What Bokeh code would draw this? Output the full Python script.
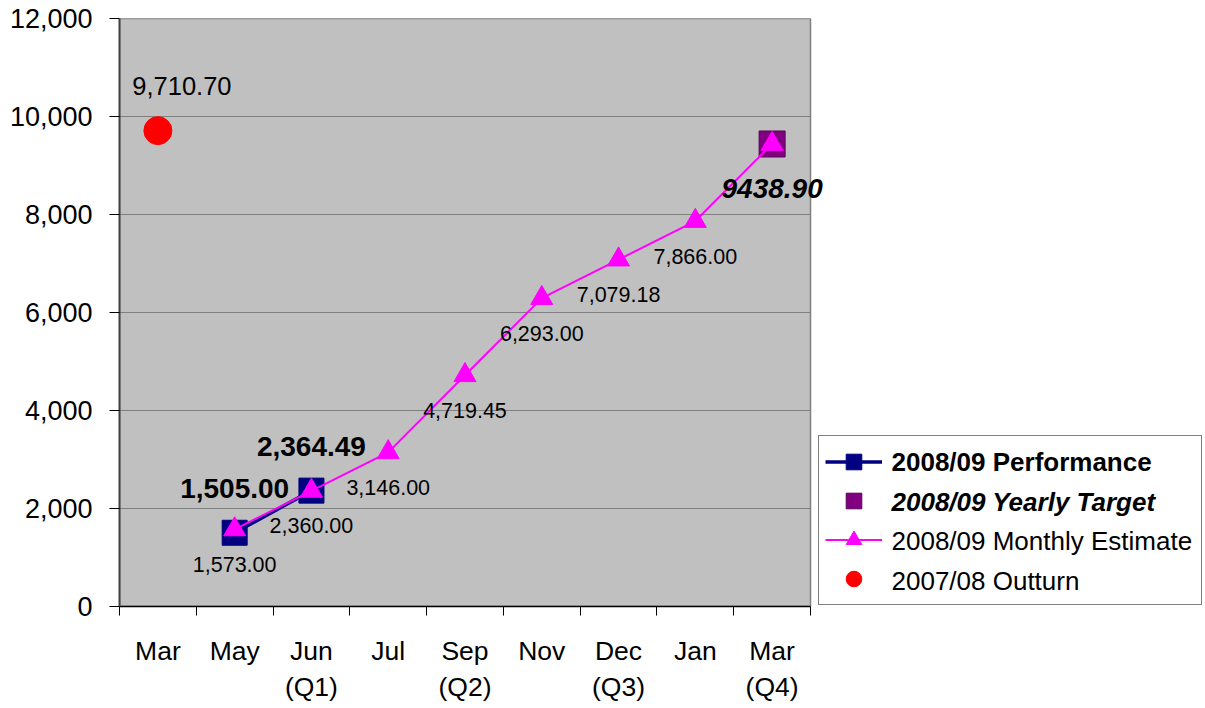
from bokeh.plotting import figure
from bokeh.models import (ColumnDataSource, Range1d, FixedTicker, NumeralTickFormatter,
                          LabelSet, Legend, LegendItem)
from bokeh.core.properties import value
from bokeh.embed import file_html
from bokeh.resources import INLINE

# ---------------- data ----------------
categories = ["Mar", "May", "Jun\n(Q1)", "Jul", "Sep\n(Q2)", "Nov", "Dec\n(Q3)", "Jan", "Mar\n(Q4)"]

outturn_cats = [0]
outturn_values = [9710.70]

performance_cats = [1, 2]
performance_values = [1505.00, 2364.49]

estimate_cats = [1, 2, 3, 4, 5, 6, 7, 8]
estimate_values = [1573.00, 2360.00, 3146.00, 4719.45, 6293.00, 7079.18, 7866.00, 9438.90]

target_cats = [8]
target_values = [9438.90]

y_ticks = [0, 2000, 4000, 6000, 8000, 10000, 12000]

legend_labels = ["2008/09 Performance", "2008/09 Yearly Target",
                 "2008/09 Monthly Estimate", "2007/08 Outturn"]
legend_styles = ["bold", "bold italic", "normal", "normal"]

FONT = "Liberation Sans"
NAVY = "#000080"
MAGENTA = "#FF00FF"
PURPLE = "#800080"
RED = "#FF0000"

# ---------------- layout ----------------
W, H = 1205, 708
LEFT, TOP, BOTTOM = 119, 18, 102
PLOT_W = 691                      # width of the grey plotting area in px
n = len(categories)
frame_w = W - LEFT
x_end = n * frame_w / PLOT_W       # frame extends to the right to hold the legend
y_max = y_ticks[-1]
centers = [i + 0.5 for i in range(n)]

p = figure(width=W, height=H, x_range=Range1d(0, x_end), y_range=Range1d(0, y_max),
           output_backend="svg", toolbar_location=None,
           min_border_left=LEFT, min_border_right=0, min_border_top=TOP, min_border_bottom=BOTTOM)
p.background_fill_color = "white"
p.border_fill_color = "white"
p.outline_line_color = None
p.xgrid.grid_line_color = None
p.ygrid.grid_line_color = None

# grey plotting area + gridlines
p.quad(left=[0], right=[n], bottom=[0], top=[y_max], fill_color="#C0C0C0",
       line_color="#808080", line_width=1.5)
p.segment(x0=[0] * (len(y_ticks) - 1), x1=[n] * (len(y_ticks) - 1),
          y0=y_ticks[1:], y1=y_ticks[1:], line_color="#808080", line_width=1)

# axes
p.yaxis.ticker = FixedTicker(ticks=y_ticks)
p.yaxis.formatter = NumeralTickFormatter(format="0,0")
p.yaxis.major_label_text_font = FONT
p.yaxis.major_label_text_font_size = "27px"
p.yaxis.major_label_text_color = "black"
p.yaxis.major_tick_out = 10
p.yaxis.major_tick_in = 0
p.yaxis.minor_tick_out = 0
p.yaxis.minor_tick_in = 0
p.yaxis.major_tick_line_color = "black"
p.yaxis.axis_line_color = "#404040"
p.yaxis.axis_line_width = 2
p.yaxis.major_label_standoff = 17

p.xaxis.bounds = (0, n)
p.xaxis.ticker = FixedTicker(ticks=centers, minor_ticks=list(range(n + 1)))
p.xaxis.major_label_overrides = {c: lab for c, lab in zip(centers, categories)}
p.xaxis.major_label_text_font = FONT
p.xaxis.major_label_text_font_size = "26.5px"
p.xaxis.major_label_text_color = "black"
p.xaxis.major_label_text_line_height = 1.21
p.xaxis.major_tick_out = 0
p.xaxis.major_tick_in = 0
p.xaxis.minor_tick_out = 9
p.xaxis.minor_tick_in = 0
p.xaxis.minor_tick_line_color = "black"
p.xaxis.axis_line_color = "black"
p.xaxis.axis_line_width = 1.5
p.xaxis.major_label_standoff = 20

# ---------------- series ----------------
perf_src = ColumnDataSource(dict(x=[c + 0.5 for c in performance_cats], y=performance_values,
                                 t=[f"{v:,.2f}" for v in performance_values]))
targ_src = ColumnDataSource(dict(x=[c + 0.5 for c in target_cats], y=target_values,
                                 t=[f"{v:.2f}" for v in target_values]))
est_src = ColumnDataSource(dict(x=[c + 0.5 for c in estimate_cats], y=estimate_values))
est_lab_src = ColumnDataSource(dict(x=[c + 0.5 for c in estimate_cats[:-1]], y=estimate_values[:-1],
                                    t=[f"{v:,.2f}" for v in estimate_values[:-1]]))
out_src = ColumnDataSource(dict(x=[c + 0.5 for c in outturn_cats], y=outturn_values,
                                t=[f"{v:,.2f}" for v in outturn_values]))

perf_line = p.line("x", "y", source=perf_src, line_color=NAVY, line_width=3.5)
perf_pts = p.scatter("x", "y", source=perf_src, marker="square", size=25,
                     fill_color=NAVY, line_color=NAVY)
targ_pts = p.scatter("x", "y", source=targ_src, marker="square", size=26,
                     fill_color=PURPLE, line_color="#5a005a", line_width=1)
est_line = p.line("x", "y", source=est_src, line_color=MAGENTA, line_width=2)
est_pts = p.scatter("x", "y", source=est_src, marker="triangle", size=22,
                    fill_color=MAGENTA, line_color=MAGENTA)
out_pts = p.scatter("x", "y", source=out_src, marker="circle", size=28,
                    fill_color=RED, line_color=RED)

# ---------------- data labels ----------------
p.add_layout(LabelSet(x="x", y="y", text="t", source=est_lab_src, y_offset=-35,
                      text_align="center", text_baseline="middle",
                      text_font=value(FONT), text_font_size="21.5px", text_color="black"))
p.add_layout(LabelSet(x="x", y="y", text="t", source=perf_src, y_offset=44,
                      text_align="center", text_baseline="middle", text_font_style="bold",
                      text_font=value(FONT), text_font_size="28px", text_color="black"))
p.add_layout(LabelSet(x="x", y="y", text="t", source=targ_src, y_offset=-45,
                      text_align="center", text_baseline="middle", text_font_style="bold italic",
                      text_font=value(FONT), text_font_size="28px", text_color="black"))
p.add_layout(LabelSet(x="x", y="y", text="t", source=out_src, y_offset=45, x_offset=24,
                      text_align="center", text_baseline="middle",
                      text_font=value(FONT), text_font_size="25.5px", text_color="black"))

# ---------------- legend ----------------
legend = Legend(items=[
    LegendItem(label=" ", renderers=[perf_line, perf_pts]),
    LegendItem(label=" ", renderers=[targ_pts]),
    LegendItem(label=" ", renderers=[est_line, est_pts]),
    LegendItem(label=" ", renderers=[out_pts]),
], location=(818 - LEFT, 1), orientation="vertical", glyph_width=57, glyph_height=39,
    padding=6, spacing=0, margin=0, label_standoff=10, label_width=303, label_height=10,
    label_text_font_size="10px", border_line_color="black", border_line_width=1,
    background_fill_color="white", background_fill_alpha=0.0)
p.add_layout(legend, "center")

px_per_x = PLOT_W / n
px_per_y = (H - TOP - BOTTOM) / y_max
frame_bottom = H - BOTTOM
leg_x = (891 - LEFT) / px_per_x
leg_rows_px = [461.5, 501.0, 540.5, 580.0]
leg_src = ColumnDataSource(dict(x=[leg_x] * 4, y=[(frame_bottom - r) / px_per_y for r in leg_rows_px],
                                t=legend_labels, s=legend_styles))
p.add_layout(LabelSet(x="x", y="y", text="t", text_font_style="s", source=leg_src,
                      text_align="left", text_baseline="middle",
                      text_font=value(FONT), text_font_size="26px", text_color="black"))

open("out.html", "w").write(file_html(p, INLINE))
